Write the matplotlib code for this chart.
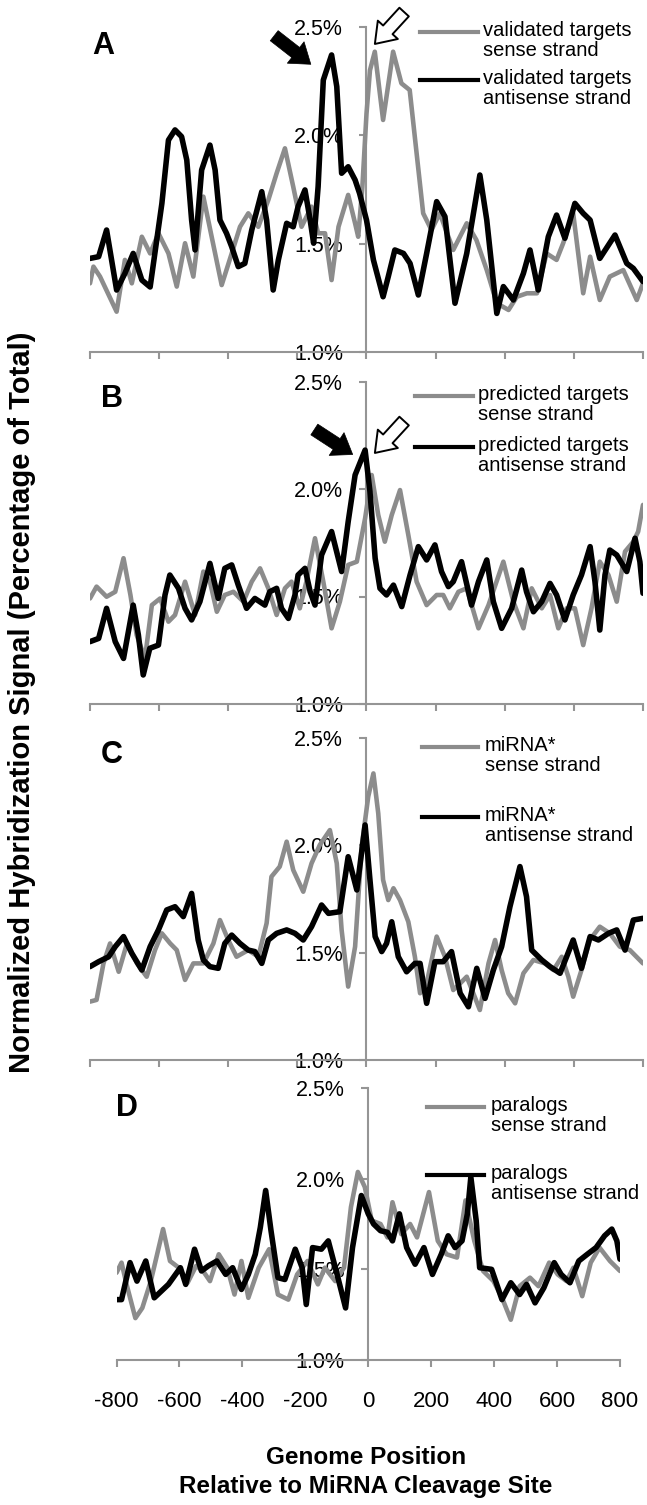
import matplotlib.pyplot as plt
from matplotlib.lines import Line2D
from matplotlib.patches import FancyArrowPatch
from matplotlib.ticker import FuncFormatter

# .. values (position, % of total signal) ..
a_anti_x = [-800, -775, -752, -723, -699, -675, -650, -626, -592, -573, -554, -535, -520, -506, -496,
            -477, -453, -438, -424, -405, -390, -371, -352, -332, -303, -289, -270, -255, -231, -212,
            -198, -178, -163, -153, -140, -125, -101, -86, -72, -53, -33, -20, 0, 20, 48, 63, 82, 107,
            126, 150, 174, 203, 227, 256, 290, 328, 348, 377, 396, 425, 454, 473, 497, 526, 550, 574,
            603, 627, 647, 675, 719, 753, 772, 800]
a_anti_y = [1.432, 1.44, 1.563, 1.286, 1.363, 1.455, 1.332, 1.30, 1.686, 1.978, 2.025, 1.994, 1.886,
            1.609, 1.471, 1.84, 1.955, 1.84, 1.609, 1.548, 1.486, 1.394, 1.409, 1.563, 1.74, 1.609,
            1.286, 1.425, 1.594, 1.578, 1.671, 1.748, 1.609, 1.502, 1.763, 2.255, 2.371, 2.225, 1.825,
            1.855, 1.794, 1.732, 1.609, 1.425, 1.255, 1.348, 1.471, 1.455, 1.409, 1.263, 1.455, 1.694,
            1.625, 1.225, 1.455, 1.817, 1.609, 1.178, 1.302, 1.24, 1.363, 1.471, 1.286, 1.532, 1.632,
            1.525, 1.686, 1.64, 1.609, 1.432, 1.54, 1.409, 1.386, 1.325]
a_sense_x = [-800, -790, -771, -723, -699, -679, -650, -626, -602, -573, -549, -525, -501, -472, -448,
             -419, -390, -366, -342, -313, -284, -260, -236, -212, -188, -159, -140, -120, -101, -81,
             -53, -33, -24, -12, 0, 10, 24, 48, 77, 101, 125, 145, 164, 188, 212, 251, 290, 318, 348,
             377, 411, 435, 464, 493, 521, 550, 569, 598, 627, 647, 675, 704, 743, 782, 800]
a_sense_y = [1.317, 1.394, 1.348, 1.186, 1.425, 1.317, 1.532, 1.455, 1.548, 1.455, 1.302, 1.502, 1.348,
             1.717, 1.532, 1.309, 1.455, 1.578, 1.64, 1.578, 1.702, 1.825, 1.94, 1.763, 1.578, 1.671,
             1.548, 1.548, 1.332, 1.578, 1.725, 1.594, 1.532, 1.76, 2.10, 2.30, 2.386, 2.071, 2.386,
             2.24, 2.209, 1.917, 1.64, 1.563, 1.64, 1.471, 1.594, 1.517, 1.378, 1.225, 1.194, 1.255,
             1.271, 1.271, 1.455, 1.425, 1.502, 1.64, 1.271, 1.44, 1.24, 1.348, 1.378, 1.24, 1.317]

b_anti_x = [-800, -775, -752, -727, -703, -675, -660, -646, -627, -602, -583, -569, -544, -525, -506,
            -482, -453, -429, -410, -390, -371, -347, -323, -294, -280, -260, -246, -226, -207, -198,
            -178, -163, -149, -130, -101, -72, -53, -33, -4, 10, 25, 39, 58, 78, 102, 126, 150, 174,
            198, 217, 237, 251, 275, 304, 324, 348, 367, 391, 420, 449, 463, 483, 507, 531, 550, 574,
            598, 622, 647, 661, 675, 690, 704, 724, 753, 777, 791, 800]
b_anti_y = [1.29, 1.305, 1.445, 1.29, 1.212, 1.46, 1.321, 1.135, 1.259, 1.274, 1.507, 1.60, 1.538,
            1.445, 1.391, 1.476, 1.654, 1.491, 1.631, 1.647, 1.553, 1.445, 1.491, 1.46, 1.522, 1.538,
            1.445, 1.398, 1.507, 1.60, 1.631, 1.522, 1.46, 1.693, 1.802, 1.616, 1.848, 2.065, 2.181,
            1.988, 1.678, 1.538, 1.507, 1.553, 1.453, 1.60, 1.732, 1.67, 1.74, 1.616, 1.546, 1.569,
            1.662, 1.46, 1.569, 1.67, 1.476, 1.352, 1.445, 1.623, 1.522, 1.429, 1.476, 1.561, 1.507,
            1.391, 1.507, 1.60, 1.732, 1.569, 1.344, 1.60, 1.716, 1.693, 1.616, 1.771, 1.662, 1.515]
b_sense_x = [-800, -781, -752, -727, -703, -683, -665, -641, -621, -597, -573, -554, -525, -496, -472,
             -453, -433, -410, -385, -356, -332, -308, -284, -260, -236, -217, -193, -174, -149, -125,
             -101, -77, -53, -28, -4, 15, 34, 53, 73, 97, 121, 145, 174, 203, 222, 241, 266, 290, 324,
             353, 396, 425, 454, 478, 507, 531, 555, 579, 603, 627, 651, 675, 700, 724, 748, 772, 786,
             800]
b_sense_y = [1.491, 1.546, 1.499, 1.522, 1.678, 1.507, 1.321, 1.212, 1.46, 1.491, 1.383, 1.414, 1.569,
             1.414, 1.616, 1.569, 1.429, 1.507, 1.522, 1.476, 1.569, 1.631, 1.538, 1.414, 1.538, 1.569,
             1.445, 1.569, 1.771, 1.569, 1.352, 1.476, 1.647, 1.662, 1.864, 2.065, 1.879, 1.755, 1.879,
             1.995, 1.786, 1.569, 1.46, 1.507, 1.507, 1.445, 1.522, 1.538, 1.352, 1.46, 1.662, 1.476,
             1.352, 1.538, 1.445, 1.507, 1.352, 1.445, 1.445, 1.274, 1.445, 1.662, 1.60, 1.476, 1.709,
             1.755, 1.802, 1.926]

c_anti_x = [-800, -775, -746, -727, -703, -679, -650, -626, -602, -578, -554, -530, -506, -487, -472,
            -453, -429, -410, -390, -366, -342, -323, -303, -284, -260, -231, -207, -183, -159, -130,
            -110, -77, -53, -28, -4, 10, 25, 44, 58, 73, 92, 116, 140, 155, 174, 198, 222, 246, 271,
            295, 319, 343, 367, 391, 415, 444, 463, 478, 507, 531, 560, 579, 598, 622, 647, 671, 700,
            724, 748, 772, 800]
c_anti_y = [1.435, 1.458, 1.481, 1.528, 1.575, 1.497, 1.419, 1.528, 1.606, 1.699, 1.714, 1.668, 1.776,
            1.559, 1.466, 1.435, 1.427, 1.543, 1.582, 1.543, 1.512, 1.505, 1.45, 1.559, 1.59, 1.606,
            1.59, 1.559, 1.621, 1.722, 1.683, 1.691, 1.947, 1.792, 2.095, 1.839, 1.575, 1.505, 1.543,
            1.644, 1.481, 1.411, 1.45, 1.45, 1.264, 1.458, 1.458, 1.505, 1.311, 1.248, 1.427, 1.287,
            1.419, 1.528, 1.714, 1.901, 1.761, 1.512, 1.466, 1.435, 1.404, 1.481, 1.559, 1.427, 1.575,
            1.559, 1.59, 1.606, 1.512, 1.652, 1.66]
c_sense_x = [-800, -781, -761, -742, -717, -693, -664, -636, -612, -592, -568, -549, -525, -501, -472,
             -443, -424, -400, -376, -342, -313, -289, -275, -251, -231, -212, -183, -159, -135, -106,
             -86, -72, -53, -33, -14, 5, 20, 34, 48, 63, 78, 97, 121, 140, 155, 174, 203, 227, 251,
             271, 290, 309, 328, 353, 372, 391, 410, 430, 454, 483, 516, 541, 565, 584, 598, 622, 646,
             675, 704, 733, 762, 800]
c_sense_y = [1.272, 1.28, 1.45, 1.543, 1.411, 1.543, 1.45, 1.388, 1.512, 1.59, 1.543, 1.512, 1.373,
             1.45, 1.45, 1.543, 1.652, 1.559, 1.481, 1.512, 1.481, 1.637, 1.854, 1.901, 2.017, 1.885,
             1.784, 1.916, 2.002, 2.071, 1.916, 1.606, 1.342, 1.528, 1.994, 2.227, 2.335, 2.149, 1.839,
             1.745, 1.80, 1.745, 1.644, 1.481, 1.311, 1.357, 1.575, 1.481, 1.326, 1.357, 1.388, 1.311,
             1.233, 1.45, 1.559, 1.419, 1.311, 1.264, 1.404, 1.466, 1.45, 1.419, 1.481, 1.388, 1.295,
             1.419, 1.559, 1.621, 1.59, 1.528, 1.512, 1.45]

d_anti_x = [-800, -784, -757, -735, -707, -680, -635, -597, -580, -552, -530, -508, -481, -453, -431,
            -403, -381, -359, -343, -326, -309, -287, -265, -232, -210, -197, -177, -149, -127, -99,
            -72, -50, -22, 0, 17, 39, 61, 77, 99, 122, 149, 177, 204, 232, 254, 276, 298, 315, 326,
            343, 354, 392, 425, 453, 481, 503, 530, 558, 591, 613, 641, 669, 696, 724, 751, 774, 790,
            800]
d_anti_y = [1.333, 1.333, 1.537, 1.435, 1.546, 1.343, 1.417, 1.509, 1.417, 1.611, 1.491, 1.519, 1.546,
            1.472, 1.509, 1.389, 1.472, 1.583, 1.731, 1.935, 1.713, 1.454, 1.444, 1.611, 1.509, 1.306,
            1.62, 1.611, 1.657, 1.472, 1.287, 1.62, 1.907, 1.806, 1.75, 1.713, 1.704, 1.657, 1.806,
            1.62, 1.528, 1.62, 1.472, 1.583, 1.685, 1.62, 1.657, 1.806, 2.009, 1.769, 1.509, 1.50,
            1.333, 1.426, 1.361, 1.417, 1.315, 1.398, 1.537, 1.472, 1.426, 1.546, 1.583, 1.62, 1.685,
            1.722, 1.657, 1.556]
d_sense_x = [-800, -784, -768, -740, -718, -691, -652, -630, -602, -574, -547, -525, -503, -475, -448,
             -425, -403, -381, -348, -315, -287, -254, -226, -193, -160, -138, -105, -77, -55, -33, -11,
             11, 39, 61, 77, 105, 133, 155, 193, 221, 249, 282, 309, 337, 365, 398, 425, 453, 481, 514,
             541, 575, 602, 630, 652, 680, 707, 735, 768, 800]
d_sense_y = [1.481, 1.537, 1.417, 1.231, 1.287, 1.435, 1.722, 1.546, 1.509, 1.426, 1.519, 1.491, 1.435,
             1.583, 1.509, 1.361, 1.546, 1.343, 1.509, 1.611, 1.361, 1.333, 1.472, 1.546, 1.417, 1.509,
             1.435, 1.509, 1.843, 2.037, 1.954, 1.769, 1.75, 1.676, 1.87, 1.694, 1.75, 1.676, 1.926,
             1.657, 1.583, 1.565, 1.88, 1.657, 1.491, 1.435, 1.343, 1.222, 1.407, 1.454, 1.407, 1.537,
             1.472, 1.435, 1.509, 1.352, 1.537, 1.62, 1.546, 1.491]

legend_text = [("validated targets\nsense strand", "validated targets\nantisense strand"),
               ("predicted targets\nsense strand", "predicted targets\nantisense strand"),
               ("miRNA*\nsense strand", "miRNA*\nantisense strand"),
               ("paralogs\nsense strand", "paralogs\nantisense strand")]
panel_letters = ["A", "B", "C", "D"]
x_ticks = [-800, -600, -400, -200, 0, 200, 400, 600, 800]
y_ticks = [1.0, 1.5, 2.0, 2.5]

plt.rcParams['font.family'] = ['Liberation Sans', 'DejaVu Sans']
plt.rcParams['axes.unicode_minus'] = False

W, H = 647, 1505
GRAY = '#8c8c8c'
AXIS_GRAY = '#959595'

fig = plt.figure(figsize=(W / 100, H / 100), dpi=100)


def fx(px):
    return px / W


def fy(py):
    return 1 - py / H


# .. panel boxes in pixels: left, top, right, bottom ..
boxes = [(90, 27, 643, 352), (90, 381.5, 643, 704), (90, 738, 643, 1060), (116.5, 1088, 620, 1360)]
series = [(a_sense_x, a_sense_y, a_anti_x, a_anti_y),
          (b_sense_x, b_sense_y, b_anti_x, b_anti_y),
          (c_sense_x, c_sense_y, c_anti_x, c_anti_y),
          (d_sense_x, d_sense_y, d_anti_x, d_anti_y)]
letter_pos = [(103, 46), (112, 399), (112, 755), (127, 1108)]
# legend: x of sample start/end, text x, y of the two entries
legend_pos = [(420, 478, 483, 32, 80), (415, 473, 478, 396, 447),
              (422, 478, 485, 747, 817), (427, 484, 491, 1107, 1175)]

for i, (l, t, r, b) in enumerate(boxes):
    ax = fig.add_axes([fx(l), fy(b), fx(r - l), (b - t) / H])
    sx, sy, ax_, ay = series[i]
    ax.plot(sx, sy, color=GRAY, lw=3.3, solid_joinstyle='round', solid_capstyle='round', zorder=3)
    ax.plot(ax_, ay, color='black', lw=4.0, solid_joinstyle='round', solid_capstyle='round',
            zorder=4)
    ax.set_xlim(-800, 800)
    ax.set_ylim(1.0, 2.5)
    ax.set_axisbelow(True)
    for s in ['top', 'right']:
        ax.spines[s].set_visible(False)
    ax.spines['left'].set_position(('data', 0))
    ax.spines['left'].set_color(AXIS_GRAY)
    ax.spines['bottom'].set_color(AXIS_GRAY)
    ax.spines['left'].set_linewidth(1.5)
    ax.spines['bottom'].set_linewidth(1.5)
    ax.set_xticks(x_ticks)
    ax.set_yticks(y_ticks)
    ax.yaxis.set_major_formatter(FuncFormatter(lambda v, p: '%.1f%%' % v))
    ax.tick_params(axis='both', direction='out', length=5, width=1.5, color=AXIS_GRAY,
                   labelsize=15.5)
    ax.tick_params(axis='y', pad=12)
    ax.tick_params(axis='x', pad=17, labelsize=16)
    if i < 3:
        ax.tick_params(axis='x', labelbottom=False)
    ax.patch.set_visible(False)

    fig.text(fx(letter_pos[i][0]), fy(letter_pos[i][1]), panel_letters[i], fontsize=22,
             fontweight='bold', ha='center', va='center')

    x0, x1, xt, y_s, y_a = legend_pos[i]
    for y0, col, txt in [(y_s, GRAY, legend_text[i][0]), (y_a, 'black', legend_text[i][1])]:
        fig.add_artist(Line2D([fx(x0), fx(x1)], [fy(y0), fy(y0)], color=col, lw=3.0,
                              transform=fig.transFigure))
        fig.text(fx(xt), fy(y0 - 11), txt, fontsize=14.5, ha='left', va='top', linespacing=1.05)


# .. arrows marking the peaks ..
def arrow(p0, p1, filled):
    a = FancyArrowPatch((fx(p0[0]), fy(p0[1])), (fx(p1[0]), fy(p1[1])),
                        transform=fig.transFigure,
                        arrowstyle='simple,head_length=0.6,head_width=0.85,tail_width=0.4',
                        mutation_scale=23, facecolor='black' if filled else 'white',
                        edgecolor='black', lw=1.4 if not filled else 0.5, zorder=10)
    fig.add_artist(a)


arrow((272, 34), (313, 66), True)
arrow((406, 10), (373, 46), False)
arrow((312, 428), (355, 456), True)
arrow((406, 419), (373, 455), False)

fig.text(fx(22), fy(702), "Normalized Hybridization Signal (Percentage of Total)", rotation=90,
         fontsize=21, fontweight='bold', ha='center', va='center')
fig.text(fx(366), fy(1472), "Genome Position\nRelative to MiRNA Cleavage Site", fontsize=17.5,
         fontweight='bold', ha='center', va='center', linespacing=1.3)

fig.savefig("out.png", dpi=100)
